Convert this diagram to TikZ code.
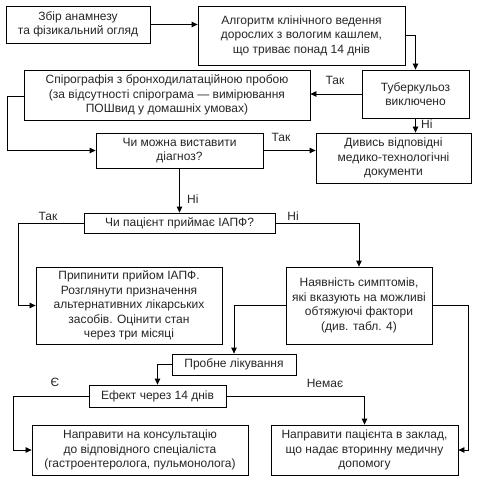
\documentclass[tikz,border=0pt]{standalone}
\usepackage{fontspec}
\setmainfont{Liberation Sans}
\usetikzlibrary{arrows.meta,calc}
\begin{document}
\begin{tikzpicture}[x=1bp,y=-1bp,
  every node/.style={font=\fontsize{12bp}{14.5bp}\selectfont, text=black!85},
  box/.style={draw=black, line width=0.8bp, inner sep=0pt, align=center},
  arr/.style={draw=black, line width=0.8bp, -{Triangle[length=6bp,width=5.5bp]}},
  ln/.style={draw=black, line width=0.8bp},
  lbl/.style={inner sep=0pt}]
\fill[white] (0,0) rectangle (482,483);
\useasboundingbox (0,0) rectangle (482,483);

\node[box, minimum width=144bp, minimum height=37bp] (b1) at (78,24.5) {Збір анамнезу\\та фізикальний огляд};
\node[box, minimum width=207bp, minimum height=59bp] (b2) at (301.5,35.5) {Алгоритм клінічного ведення\\дорослих з вологим кашлем,\\що триває понад 14 днів};
\node[box, minimum width=107bp, minimum height=48bp] (b3) at (415.5,94) {Туберкульоз\\виключено};
\node[box, minimum width=286bp, minimum height=50bp] (b4) at (167,95) {Спірографія з бронходилатаційною пробою\\(за відсутності спірограма — вимірювання\\ПОШвид у домашніх умовах)};
\node[box, minimum width=167bp, minimum height=35bp] (b5) at (179.5,150.5) {Чи можна виставити\\діагноз?};
\node[box, minimum width=155bp, minimum height=50bp] (b6) at (393.5,158) {Дивись відповідні\\медико-технологічні\\документи};
\node[box, minimum width=191bp, minimum height=20bp] (b7) at (179.5,223) {Чи пацієнт приймає ІАПФ?};
\node[box, minimum width=186bp, minimum height=77bp] (b8) at (129,305.5) {Припинити прийом ІАПФ.\\Розглянути призначення\\альтернативних лікарських\\засобів. Оцінити стан\\через три місяці};
\node[box, minimum width=146bp, minimum height=77bp] (b9) at (359,305.5) {Наявність симптомів,\\які вказують на можливі\\обтяжуючі фактори\\(див. табл. 4)};
\node[box, minimum width=124bp, minimum height=21bp] (b10) at (234,364.5) {Пробне лікування};
\node[box, minimum width=137bp, minimum height=22bp] (b11) at (157.5,396) {Ефект через 14 днів};
\node[box, minimum width=216bp, minimum height=50bp] (b12) at (140,450) {Направити на консультацію\\до відповідного спеціаліста\\(гастроентеролога, пульмонолога)};
\node[box, minimum width=187bp, minimum height=50bp] (b13) at (364.5,450) {Направити пацієнта в заклад,\\що надає вторинну медичну\\допомогу};

\coordinate (c4) at (7,96);
\coordinate (c7) at (18,223);
\coordinate (c9) at (468,305);
\coordinate (c11) at (13,396);

\draw[arr] (b1) -- (b1 -| b2.west);
\draw[arr] (b2.east) -| (b3.north);
\draw[arr] (b3.west) -- (b3.west -| b4.east);
\draw[arr] (b3.south) -- (b3.south |- b6.north);
\draw[arr] (b4.west |- c4) -- (c4) |- (b5.west);
\draw[arr] (b5.east) -- (b5.east -| b6.west);
\draw[arr] (b5.south) -- (b7.north);
\draw[arr] (b7.west) -- (c7) |- (b8.west);
\draw[arr] (b7.east) -| (b9.north);
\draw[arr] (b9.west) -| (b10.north);
\draw[arr] (b9.east |- c9) -- (c9) |- (b13.east);
\draw[arr] (b10.west) -| (b11.north);
\draw[arr] (b11.west) -- (c11) |- (b12.west);
\draw[arr] (b11.east) -| (b13.north);

\node[lbl] (l1) at (335,80) {Так};
\node[lbl, anchor=west] (l2) at (421,124) {Ні};
\node[lbl] (l3) at (281,137) {Так};
\node[lbl, anchor=west] (l4) at (187,199) {Ні};
\node[lbl] (l5) at (48,216) {Так};
\node[lbl] (l6) at (293,216) {Ні};
\node[lbl] (l7) at (55,382) {Є};
\node[lbl] (l8) at (325,383) {Немає};
\end{tikzpicture}
\end{document}
